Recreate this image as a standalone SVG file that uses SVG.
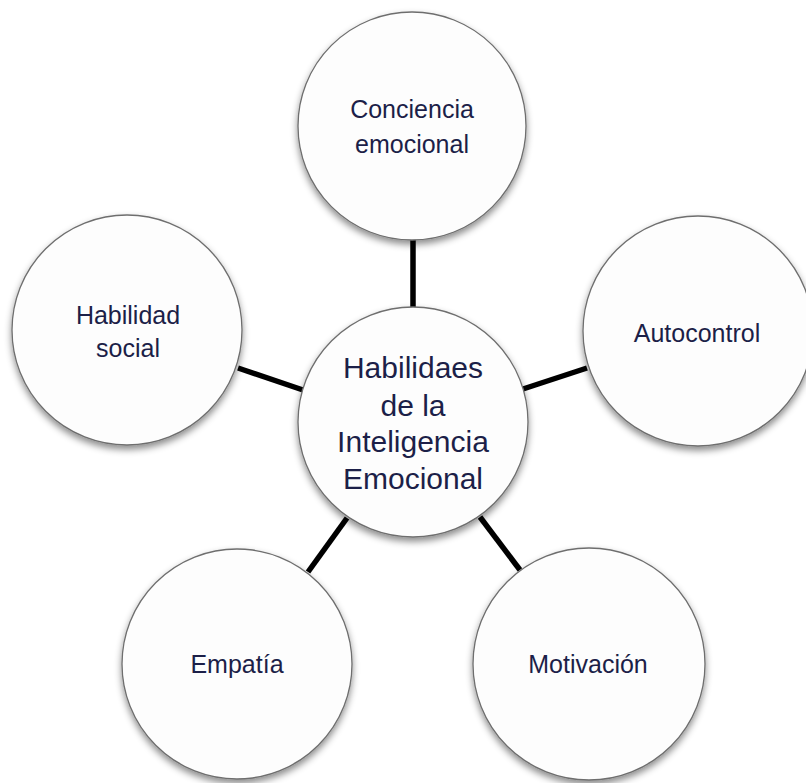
<svg xmlns="http://www.w3.org/2000/svg" width="806" height="783" viewBox="0 0 806 783">
<style>
.node{fill:#fdfdfd;stroke:#6e6e6e;stroke-width:1.3;filter:url(#sh)}
.lbl{font-family:"Liberation Sans",Arial,sans-serif;font-size:25px;fill:#1c1f48;text-anchor:middle}
.big{font-size:30px}
.conn line{stroke:#000;stroke-width:5.5;stroke-linecap:butt}
</style>
<defs>
<filter id="sh" x="-20%" y="-20%" width="140%" height="150%">
<feDropShadow dx="0" dy="4" stdDeviation="3.5" flood-color="#000" flood-opacity="0.45"/>
</filter>
</defs>
<rect width="806" height="783" fill="#fff"/>
<g id="connectors" class="conn">
<line x1="413" y1="238" x2="413" y2="310"/>
<line x1="238" y1="368" x2="303" y2="390"/>
<line x1="523" y1="389" x2="587" y2="368"/>
<line x1="308" y1="572" x2="347" y2="518"/>
<line x1="480" y1="517" x2="520" y2="570"/>
</g>
<g id="n-conciencia">
<circle class="node" cx="412" cy="126" r="114"/>
<text class="lbl" x="412" y="118">Conciencia</text>
<text class="lbl" x="412" y="153">emocional</text>
</g>
<g id="n-habilidad">
<circle class="node" cx="127" cy="330" r="115"/>
<text class="lbl" x="128" y="324">Habilidad</text>
<text class="lbl" x="128" y="357">social</text>
</g>
<g id="n-autocontrol">
<circle class="node" cx="698" cy="331" r="115"/>
<text class="lbl" x="697" y="342">Autocontrol</text>
</g>
<g id="n-empatia">
<circle class="node" cx="237" cy="664" r="115"/>
<text class="lbl" x="237" y="673">Empatía</text>
</g>
<g id="n-motivacion">
<circle class="node" cx="589" cy="664" r="116"/>
<text class="lbl" x="588" y="673">Motivación</text>
</g>
<g id="n-center">
<circle class="node" cx="413" cy="422" r="115"/>
<text class="lbl big" x="413" y="378">Habilidaes</text>
<text class="lbl big" x="413" y="416">de la</text>
<text class="lbl big" x="413" y="452">Inteligencia</text>
<text class="lbl big" x="413" y="489">Emocional</text>
</g>
</svg>
